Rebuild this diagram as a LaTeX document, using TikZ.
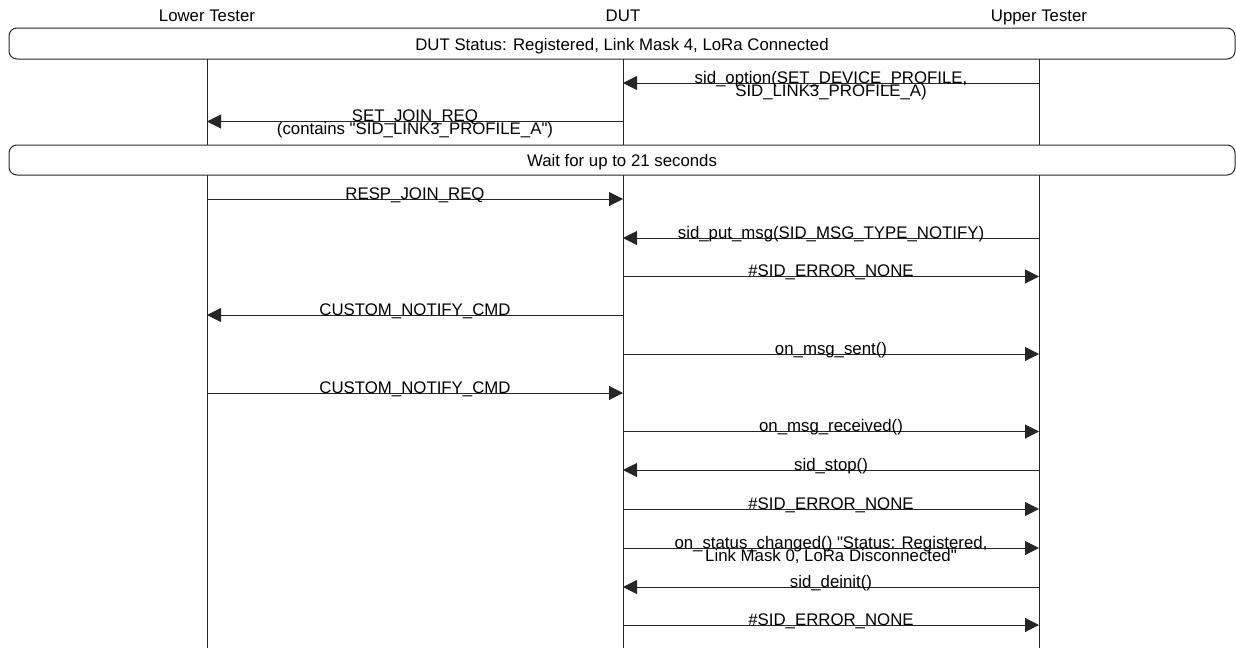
\documentclass[tikz,border=0pt]{standalone}
\usepackage{fontspec}
\setmainfont{Liberation Sans}[Ligatures=TeXOff]
\usetikzlibrary{arrows.meta}
\tikzset{
  lbl/.style={font=\fontsize{16.8}{12}\selectfont, inner sep=0pt, anchor=base},
  life/.style={line width=1pt, draw=black!85},
  msgarrow/.style={line width=1pt, draw=black!85, -{Triangle[length=14pt,width=14pt]}},
  statusbox/.style={draw=black!85, line width=1pt, rounded corners=8pt},
}
\newcommand\twolines[2]{\vtop{\baselineskip=13pt\lineskiplimit=-\maxdimen\lineskip=0pt\halign{\hfil##\hfil\cr#1\cr#2\cr}}}
\newcommand\msgline[5]{%
  \coordinate (#1a) at (#2,#4);
  \coordinate (#1b) at (#3,#4);
  \draw[msgarrow] (#1a) -- (#1b);
  \node[lbl] (#1t) at ({(#2+#3)/2},#4) {#5};
}
\begin{document}
\begin{tikzpicture}[x=1pt,y=-1pt]
\useasboundingbox (0,0) rectangle (1236,648);
% headers
\node[lbl] (hlt) at (207,21) {Lower Tester};
\node[lbl] (hdut) at (623,21) {DUT};
\node[lbl] (hut) at (1039,21) {Upper Tester};
% status boxes
\draw[statusbox] (9,28) rectangle (1235,59);
\node[lbl] (s1) at (622,50) {DUT Status: Registered, Link Mask 4, LoRa Connected};
\draw[statusbox] (9,145) rectangle (1235,175);
\node[lbl] (s2) at (622,166) {Wait for up to 21 seconds};
% lifelines
\foreach \n/\x in {lt/207,dut/623,ut/1039}{
  \coordinate (\n0) at (\x,59);
  \coordinate (\n1) at (\x,145);
  \coordinate (\n2) at (\x,175);
  \coordinate (\n3) at (\x,648);
  \draw[life] (\n0) -- (\n1);
  \draw[life] (\n2) -- (\n3);
}
% messages
\msgline{m1}{1039}{623}{83}{\twolines{sid\_option(SET\_DEVICE\_PROFILE,}{SID\_LINK3\_PROFILE\_A)}}
\msgline{m2}{623}{207}{121.5}{\twolines{SET\_JOIN\_REQ}{(contains "SID\_LINK3\_PROFILE\_A")}}
\msgline{m3}{207}{623}{199}{RESP\_JOIN\_REQ}
\msgline{m4}{1039}{623}{238}{sid\_put\_msg(SID\_MSG\_TYPE\_NOTIFY)}
\msgline{m5}{623}{1039}{276.5}{\#SID\_ERROR\_NONE}
\msgline{m6}{623}{207}{315}{CUSTOM\_NOTIFY\_CMD}
\msgline{m7}{623}{1039}{354}{on\_msg\_sent()}
\msgline{m8}{207}{623}{393}{CUSTOM\_NOTIFY\_CMD}
\msgline{m9}{623}{1039}{431.5}{on\_msg\_received()}
\msgline{m10}{1039}{623}{470}{sid\_stop()}
\msgline{m11}{623}{1039}{509}{\#SID\_ERROR\_NONE}
\msgline{m12}{623}{1039}{548}{\twolines{on\_status\_changed() "Status: Registered,}{Link Mask 0, LoRa Disconnected"}}
\msgline{m13}{1039}{623}{587}{sid\_deinit()}
\msgline{m14}{623}{1039}{625}{\#SID\_ERROR\_NONE}
\end{tikzpicture}
\end{document}
